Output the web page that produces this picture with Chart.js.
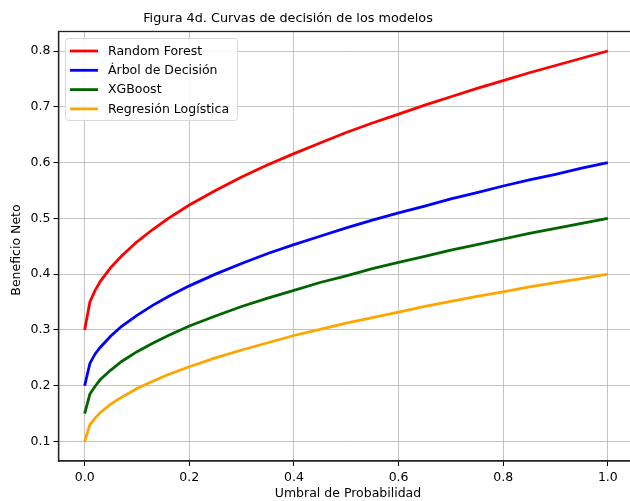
<!DOCTYPE html>
<html><head><meta charset="utf-8">
<script src="https://cdn.jsdelivr.net/npm/chart.js@4/dist/chart.umd.min.js"></script>
<style>
html,body{margin:0;padding:0;background:#fff;overflow:hidden;width:630px;height:501px}
#wrap{position:absolute;left:0;top:0;width:640px;height:501px}
</style></head>
<body><div id="wrap"><canvas id="c" width="640" height="501"></canvas></div>
<script>
const thresholds = [0,0.01,0.02,0.03,0.05,0.07,0.1,0.13,0.16,0.2,0.25,0.3,0.35,0.4,0.45,0.5,0.55,0.6,0.65,0.7,0.75,0.8,0.85,0.9,0.95,1.0];
const randomForest = [0.300,0.350,0.371,0.387,0.412,0.432,0.458,0.480,0.500,0.524,0.550,0.574,0.596,0.616,0.635,0.654,0.671,0.687,0.703,0.718,0.733,0.747,0.761,0.774,0.787,0.800];
const arbolDecision = [0.200,0.240,0.257,0.269,0.289,0.306,0.326,0.344,0.360,0.379,0.400,0.419,0.437,0.453,0.468,0.483,0.497,0.510,0.522,0.535,0.546,0.558,0.569,0.579,0.590,0.600];
const xgboost = [0.150,0.185,0.199,0.211,0.228,0.243,0.261,0.276,0.290,0.307,0.325,0.342,0.357,0.371,0.385,0.397,0.410,0.421,0.432,0.443,0.453,0.463,0.473,0.482,0.491,0.500];
const regresionLogistica = [0.100,0.130,0.142,0.152,0.167,0.179,0.195,0.208,0.220,0.234,0.250,0.264,0.277,0.290,0.301,0.312,0.322,0.332,0.342,0.351,0.360,0.368,0.377,0.385,0.392,0.400];
const seriesNames = ["Random Forest","Árbol de Decisión","XGBoost","Regresión Logística"];
const xTicks = [0.0,0.2,0.4,0.6,0.8,1.0];
const yTicks = [0.1,0.2,0.3,0.4,0.5,0.6,0.7,0.8];
const titleText = "Figura 4d. Curvas de decisión de los modelos";
const xTitle = "Umbral de Probabilidad";
const yTitle = "Beneficio Neto";

const FONT = "'DejaVu Sans', sans-serif";
const colors = ["#ff0000","#0000ff","#006400","#ffa500"];
const allSeries = [randomForest, arbolDecision, xgboost, regresionLogistica];

const datasets = allSeries.map((s,i)=>({
  label: seriesNames[i],
  data: thresholds.map((t,j)=>({x:t,y:s[j]})),
  borderColor: colors[i],
  backgroundColor: colors[i],
  borderWidth: 2.8,
  pointRadius: 0,
  tension: 0,
  fill: false
}));

const decor = {
  id:'decor',
  afterDraw(chart){
    const ctx = chart.ctx, a = chart.chartArea;
    ctx.save();
    ctx.strokeStyle = '#222';
    ctx.lineWidth = 1.3;
    ctx.strokeRect(a.left, a.top, a.right-a.left, a.bottom-a.top);
    ctx.fillStyle = '#000';
    ctx.font = "12.8px " + FONT;
    ctx.textAlign = 'center';
    ctx.textBaseline = 'middle';
    ctx.fillText(titleText, 288, 19);
    ctx.font = "12.5px " + FONT;
    ctx.fillText(xTitle, 348, 494);
    ctx.save();
    ctx.translate(17, 250);
    ctx.rotate(-Math.PI/2);
    ctx.fillText(yTitle, 0, 0);
    ctx.restore();
    const lx = 65, ly = 38, lw = 172, lh = 82;
    ctx.beginPath();
    if (ctx.roundRect) ctx.roundRect(lx+0.5, ly+0.5, lw, lh, 3); else ctx.rect(lx+0.5, ly+0.5, lw, lh);
    ctx.fillStyle = 'rgba(255,255,255,0.85)';
    ctx.fill();
    ctx.strokeStyle = '#d8d8d8';
    ctx.lineWidth = 1;
    ctx.stroke();
    ctx.font = "12.5px " + FONT;
    ctx.textAlign = 'left';
    chart.data.datasets.forEach((d,i)=>{
      const y = 51 + i*19.3;
      ctx.strokeStyle = d.borderColor;
      ctx.lineWidth = 2.8;
      ctx.beginPath();
      ctx.moveTo(70, y); ctx.lineTo(98, y);
      ctx.stroke();
      ctx.fillStyle = '#000';
      ctx.fillText(d.label, 108, y+0.5);
    });
    ctx.restore();
  }
};

new Chart(document.getElementById('c'), {
  type: 'line',
  data: { datasets },
  options: {
    responsive: false,
    animation: false,
    layout: { padding: { top: 31.5, right: 6, left: 0, bottom: 0 } },
    plugins: { legend: { display: false }, title: { display: false }, tooltip: { enabled: false } },
    scales: {
      x: {
        type: 'linear', min: -0.05, max: 1.05,
        afterFit(s){ s.height = 40; },
        afterBuildTicks(s){ s.ticks = xTicks.map(v=>({value:v})); },
        ticks: { callback: v => v.toFixed(1), color:'#000', font:{family:FONT, size:12.5}, padding: 4, maxRotation:0, autoSkip:false },
        grid: { color:'rgba(176,176,176,0.75)', lineWidth:1, tickColor:'#000', tickLength:5 },
        border: { display: true, color:'#222', width:1.3 }
      },
      y: {
        type: 'linear', min: 0.065, max: 0.835,
        afterFit(s){ s.width = 58.5; },
        afterBuildTicks(s){ s.ticks = yTicks.map(v=>({value:v})); },
        ticks: { callback: v => v.toFixed(1), color:'#000', font:{family:FONT, size:12.5}, padding: 3, autoSkip:false },
        grid: { color:'rgba(176,176,176,0.75)', lineWidth:1, tickColor:'#000', tickLength:5 },
        border: { display: true, color:'#222', width:1.3 }
      }
    }
  },
  plugins: [decor]
});
</script></body></html>
